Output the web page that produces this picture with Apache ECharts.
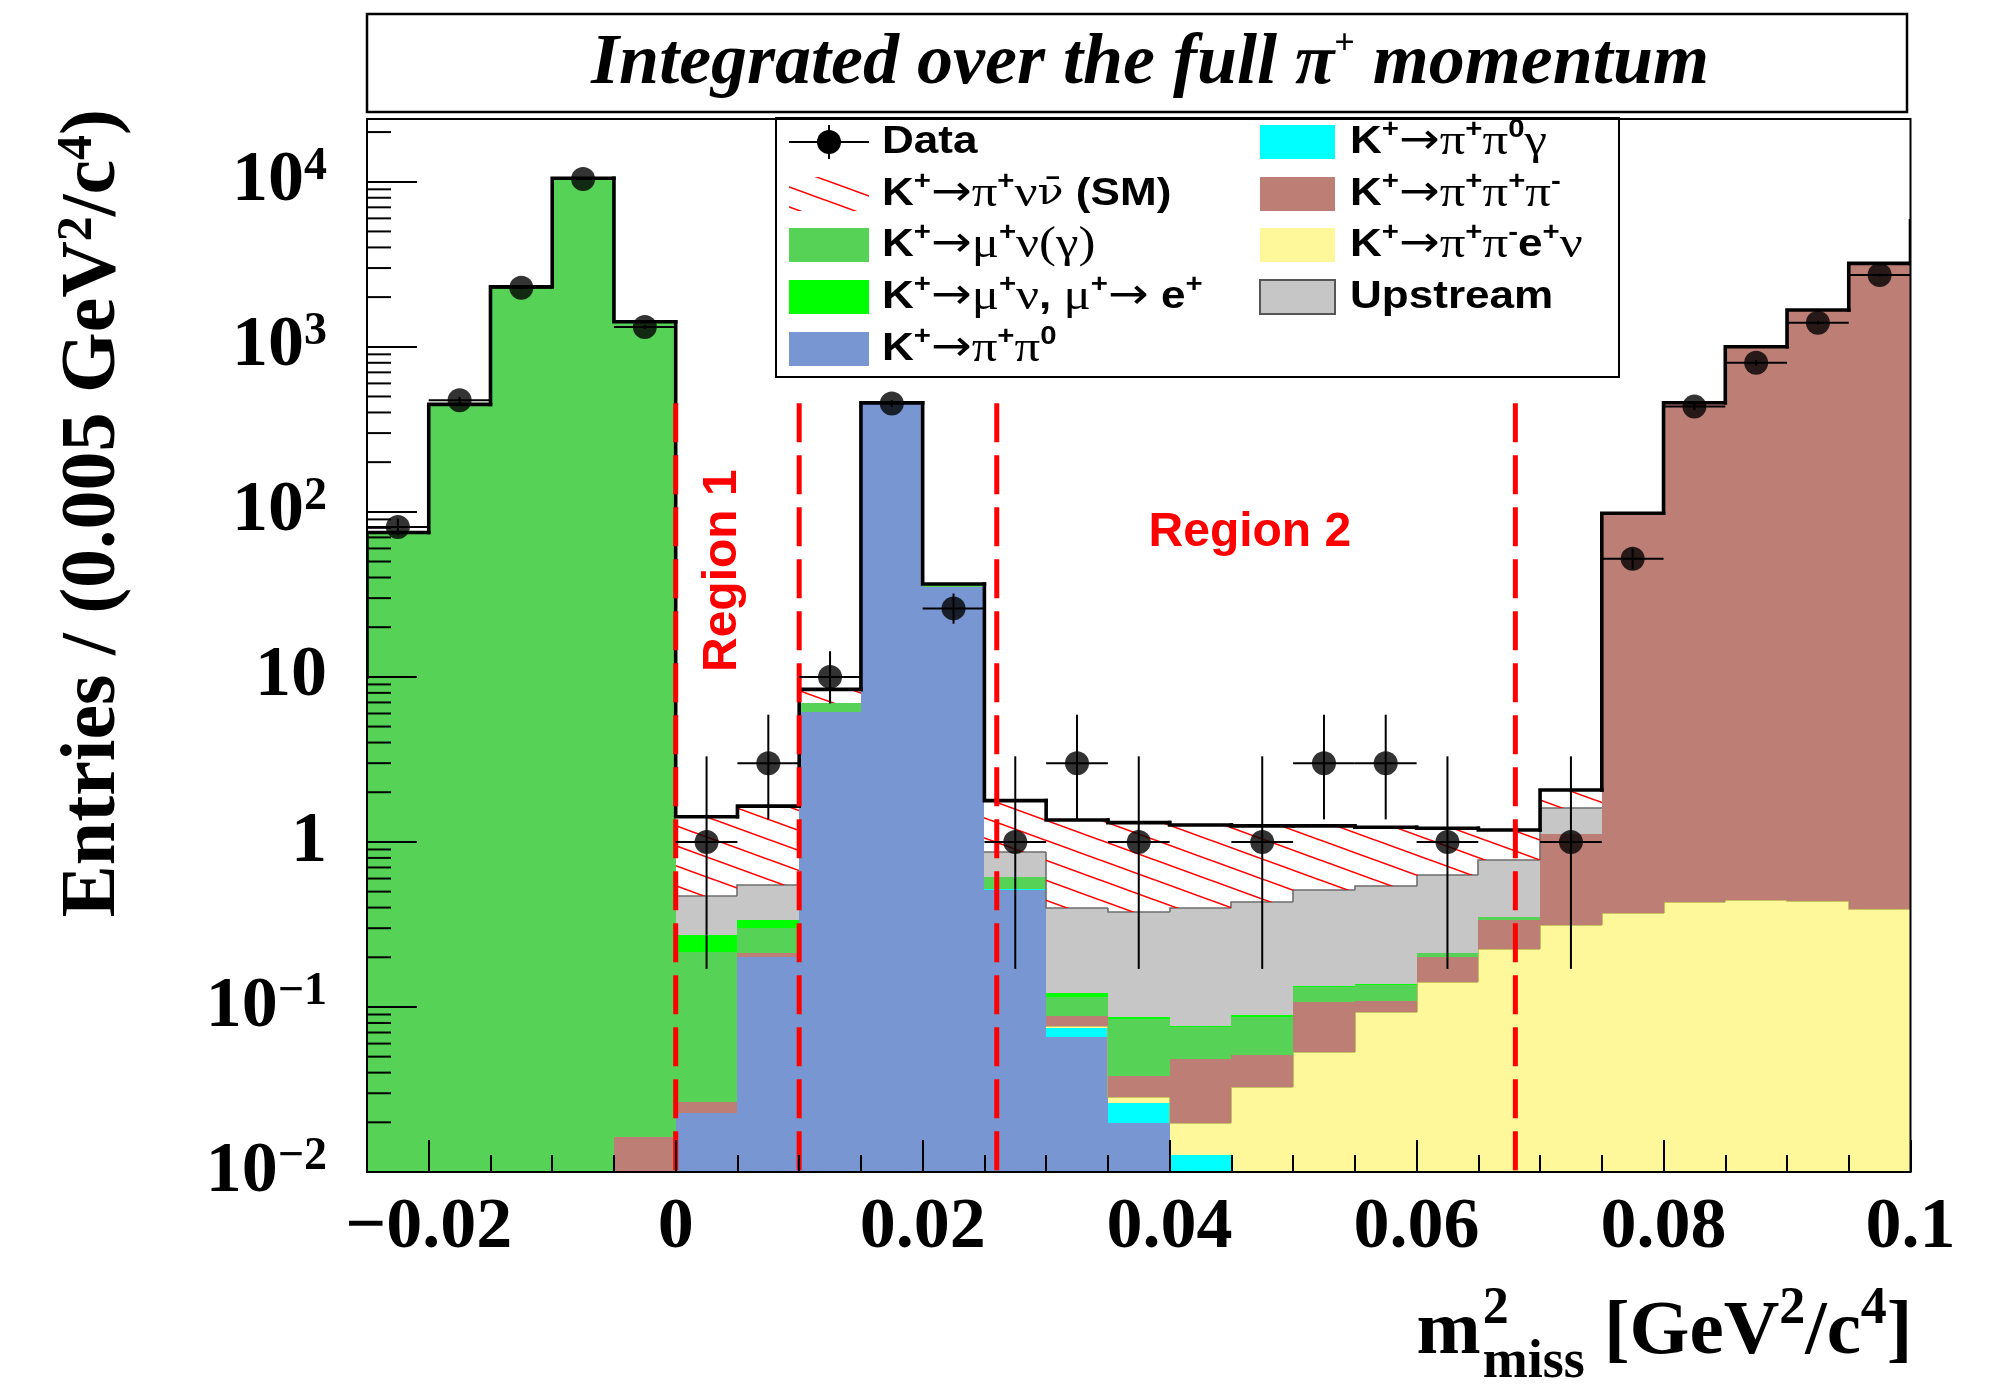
<!DOCTYPE html>
<html>
<head>
<meta charset="utf-8">
<title>m2miss distribution</title>
<script src="https://cdn.jsdelivr.net/npm/echarts@6/dist/echarts.min.js"></script>
<style>
  html, body { margin: 0; padding: 0; background: #fff; }
  #chart { width: 2012px; height: 1384px; }
</style>
</head>
<body>
<div id="chart"></div>
<script>
// ---------------------------------------------------------------------------
// Histogram bins of m2_miss [GeV^2/c^4], 0.005 wide (lower edges)
const binLow = [-0.025, -0.020, -0.015, -0.010, -0.005,
                 0.000,  0.005,  0.010,  0.015,  0.020,
                 0.025,  0.030,  0.035,  0.040,  0.045,
                 0.050,  0.055,  0.060,  0.065,  0.070,
                 0.075,  0.080,  0.085,  0.090,  0.095];
const binWidth = 0.005;

// Expected contributions per bin, listed in stacking order (bottom -> top)
const kPiPi0      = [0, 0, 0, 0, 0,   0.0227, 0.201, 6.15, 455, 35,   0.511, 0.0661, 0.0197, 0, 0,   0, 0, 0, 0, 0,   0, 0, 0, 0, 0];
const kPiPi0Gamma = [0, 0, 0, 0, 0,   0, 0, 0, 0, 0,   0.009, 0.0081, 0.0064, 0.0127, 0,   0, 0, 0, 0, 0,   0, 0, 0, 0, 0];
const kE4         = [0, 0, 0, 0, 0,   0, 0, 0, 0, 0,   0, 0.0025, 0.0025, 0.0072, 0.0329,   0.0536, 0.0935, 0.142, 0.226, 0.3135,   0.372, 0.435, 0.445, 0.44, 0.39];
const k3Pi        = [0, 0, 0, 0, 0.0163,   0.004, 0.010, 0, 0, 0,   0, 0.0114, 0.0096, 0.0283, 0.0183,   0.0541, 0.0152, 0.058, 0.111, 0.7985,   97.6, 457.6, 1000.5, 1669.5, 3202.6];
const kMu2        = [75, 448, 2310, 10490, 1419,   0.189, 0.088, 0.82, 1.5, 1.0,   0.095, 0.0272, 0.0463, 0.027, 0.0361,   0.025, 0.0272, 0.011, 0.012, 0,   0, 0, 0, 0, 0];
const kMu2Decay   = [0, 0, 0, 0, 0,   0.057, 0.038, 0, 0, 0,   0, 0.0057, 0.002, 0.0018, 0.0017,   0.0013, 0.0011, 0.002, 0.002, 0,   0, 0, 0, 0, 0];
const upstream    = [0, 0, 0, 0, 0,   0.197, 0.211, 0, 0, 0,   0.25, 0.276, 0.2915, 0.320, 0.342,   0.377, 0.406, 0.417, 0.425, 0.486,   0, 0, 0, 0, 0];
const smSignal    = [0, 0, 0, 0, 0,   0.95, 1.10, 1.43, 1.5, 0.5,   0.915, 0.96, 0.93, 0.869, 0.819,   0.739, 0.683, 0.58, 0.404, 0.465,   0, 0, 0, 0, 0];

// Total expectation in the underflow / overflow bins (outline only)
const totalUnderflow = 10;
const totalOverflow = 5800;

// Observed events per bin (null = empty bin) and their error-bar limits
const dataCounts  = [81, 475, 2280, 10400, 1320,   1, 3, 10, 454, 26,   1, 3, 1, null, 1,   3, 3, 1, null, 1,   52, 434, 800, 1400, 2720];
const dataErrLow  = [72, 453, 2232, 10300, 1284,   0.17, 1.37, 6.9, 433, 21,   0.17, 1.37, 0.17, null, 0.17,   1.37, 1.37, 0.17, null, 0.17,   45, 413, 772, 1363, 2668];
const dataErrHigh = [91, 497, 2328, 10500, 1356,   3.3, 5.9, 14.3, 475, 32,   3.3, 5.9, 3.3, null, 3.3,   5.9, 5.9, 3.3, null, 3.3,   60, 455, 828, 1437, 2772];

// Signal-region boundaries and their labels
const regionEdges = [0, 0.01, 0.026, 0.068];
const regionLineTop = 455;
const regionLabelText = ['Region 1', 'Region 2'];
const regionLabelPos = [[0.0038, 44], [0.0465, 74.5]];
const regionLabelRotated = [true, false];

// Axis ranges
const X_MIN = -0.025, X_MAX = 0.1;
const Y_MIN = 0.01, Y_MAX = 24000;
const X_MAJOR_FROM = -0.02, X_MAJOR_STEP = 0.02;

// ---------------------------------------------------------------------------
// Layout (pixels)
const PLOT = { left: 367, top: 119, width: 1543.5, height: 1053 };
const PLOT_RIGHT = PLOT.left + PLOT.width;
const Y_FLOOR = 0.004;

const SERIF = '"Liberation Serif", "Times New Roman", serif';
const SANS = '"Liberation Sans", Arial, Helvetica, sans-serif';
const DSANS = '"DejaVu Sans", sans-serif';
const DSERIF = '"DejaVu Serif", serif';

// Diagonal red hatching used for the SM signal
function makeHatch() {
  const c = document.createElement('canvas');
  c.width = 55; c.height = 20;
  const g = c.getContext('2d');
  g.strokeStyle = '#ff0000';
  g.lineWidth = 1.6;
  for (const dy of [-20, 0, 20]) {
    g.beginPath();
    g.moveTo(0, dy);
    g.lineTo(55, dy + 20);
    g.stroke();
  }
  return c;
}
const hatch = { image: makeHatch(), repeat: 'repeat' };

const layers = [
  { name: 'K+ -> pi+ pi0',           values: kPiPi0,      fill: '#7896d2' },
  { name: 'K+ -> pi+ pi0 gamma',     values: kPiPi0Gamma, fill: '#00ffff' },
  { name: 'K+ -> pi+ pi- e+ nu',     values: kE4,         fill: '#fff89a', edge: '#b8b050' },
  { name: 'K+ -> pi+ pi+ pi-',       values: k3Pi,        fill: '#bd7f75' },
  { name: 'K+ -> mu+ nu (gamma)',    values: kMu2,        fill: '#56d256' },
  { name: 'K+ -> mu+ nu, mu+ -> e+', values: kMu2Decay,   fill: '#00ff00' },
  { name: 'Upstream',                values: upstream,    fill: '#c6c6c6', edge: '#6e6e6e' },
  { name: 'K+ -> pi+ nu nubar (SM)', values: smSignal,    fill: hatch }
];

// Stack the contributions bin by bin
const cumulative = binLow.map(() => 0);
const layerData = layers.map((layer) => {
  const items = binLow.map((lo, i) => {
    const base = cumulative[i];
    const top = base + layer.values[i];
    cumulative[i] = top;
    return [lo, lo + binWidth, base, top];
  });
  // previous-bin top, for the vertical steps of outlined layers
  return items.map((it, i) => {
    const prevOn = i > 0 && layer.values[i - 1] > 0 && layer.values[i] > 0 ? 1 : 0;
    const prevTop = i > 0 ? items[i - 1][3] : it[3];
    return it.concat([prevTop, prevOn]);
  });
});
const totals = cumulative.slice();

// Outline of the total expectation, including under/overflow
const outlineLow = [X_MIN - binWidth].concat(binLow, [X_MAX]);
const outlineVal = [totalUnderflow].concat(totals, [totalOverflow]);
const outlineData = outlineLow.map((lo, i) => [lo, lo + binWidth, outlineVal[i], i > 0 ? outlineVal[i - 1] : outlineVal[i]]);

// Data points
const pointData = [];
binLow.forEach((lo, i) => {
  if (dataCounts[i] != null) {
    pointData.push([lo + binWidth / 2, dataCounts[i], dataErrLow[i], dataErrHigh[i]]);
  }
});

// Minor ticks of the logarithmic axis (2..9 x 10^k)
const yMinorTicks = [];
for (let k = -2; k <= 4; k++) {
  for (let m = 2; m <= 9; m++) {
    const v = m * Math.pow(10, k);
    if (v < Y_MAX) yMinorTicks.push([X_MIN, v]);
  }
}

// ---------------------------------------------------------------------------
function layerSeries(layer, idx) {
  return {
    type: 'custom',
    name: layer.name,
    xAxisIndex: 0, yAxisIndex: 0,
    clip: true,
    z: 2,
    silent: true,
    data: layerData[idx],
    encode: { x: [0, 1], y: [2, 3] },
    renderItem(params, api) {
      const lo = api.value(0), hi = api.value(1);
      const base = api.value(2), top = api.value(3);
      const prevTop = api.value(4), prevOn = api.value(5);
      if (!(top > base)) return null;
      const a = api.coord([lo, top]);
      const b = api.coord([hi, Math.max(base, Y_FLOOR)]);
      const x0 = Math.round(a[0]), x1 = Math.round(b[0]);
      const y0 = Math.round(a[1]), y1 = Math.round(b[1]);
      const children = [{
        type: 'rect',
        shape: { x: x0, y: y0, width: x1 - x0, height: y1 - y0 },
        style: { fill: layer.fill }
      }];
      if (layer.edge) {
        const pts = [[x0, y0], [x1, y0]];
        if (prevOn) pts.unshift([x0, Math.round(api.coord([lo, prevTop])[1])]);
        children.push({
          type: 'polyline',
          shape: { points: pts },
          style: { stroke: layer.edge, lineWidth: 1.6, fill: null }
        });
      }
      return { type: 'group', children };
    }
  };
}

const series = layers.map(layerSeries);

series.push({
  type: 'custom',
  name: 'Total',
  clip: true,
  z: 3,
  silent: true,
  data: outlineData,
  encode: { x: [0, 1], y: [2, 3] },
  renderItem(params, api) {
    const lo = api.value(0), hi = api.value(1), v = api.value(2), prev = api.value(3);
    const a = api.coord([lo, prev]);
    const b = api.coord([lo, v]);
    const c = api.coord([hi, v]);
    return {
      type: 'polyline',
      shape: { points: [a, b, c] },
      style: { stroke: '#000', lineWidth: 3.6, fill: null, lineJoin: 'miter', lineCap: 'square' }
    };
  }
});

series.push({
  type: 'custom',
  name: 'Regions',
  clip: true,
  z: 4,
  silent: true,
  data: regionEdges.map((x) => [x, Y_MIN, regionLineTop]),
  encode: { x: 0, y: [1, 2] },
  renderItem(params, api) {
    const top = api.coord([api.value(0), api.value(2)]);
    const bottom = api.coord([api.value(0), api.value(1)]);
    return {
      type: 'line',
      shape: { x1: top[0], y1: top[1], x2: bottom[0], y2: bottom[1] },
      style: { stroke: '#ff0000', lineWidth: 5, lineDash: [39, 13] }
    };
  }
});

series.push({
  type: 'custom',
  name: 'Region labels',
  z: 4,
  silent: true,
  data: regionLabelPos,
  encode: { x: 0, y: 1 },
  renderItem(params, api) {
    const p = api.coord([api.value(0), api.value(1)]);
    return {
      type: 'text',
      x: p[0], y: p[1],
      rotation: regionLabelRotated[params.dataIndex] ? Math.PI / 2 : 0,
      style: {
        text: regionLabelText[params.dataIndex],
        fill: '#ff0000',
        fontFamily: SANS, fontWeight: 'bold', fontSize: 48,
        align: 'center', verticalAlign: 'middle'
      }
    };
  }
});

series.push({
  type: 'custom',
  name: 'Minor ticks',
  z: 5,
  silent: true,
  data: yMinorTicks,
  encode: { x: 0, y: 1 },
  renderItem(params, api) {
    const p = api.coord([api.value(0), api.value(1)]);
    return {
      type: 'line',
      shape: { x1: p[0], y1: p[1], x2: p[0] + 24, y2: p[1] },
      style: { stroke: '#000', lineWidth: 2 }
    };
  }
});

series.push({
  type: 'custom',
  name: 'Data errors',
  clip: true,
  z: 6,
  silent: true,
  data: pointData,
  encode: { x: 0, y: [1, 2, 3] },
  renderItem(params, api) {
    const x = api.value(0), v = api.value(1), lo = api.value(2), hi = api.value(3);
    const pLo = api.coord([x, lo]), pHi = api.coord([x, hi]);
    const pL = api.coord([x - binWidth / 2, v]), pR = api.coord([x + binWidth / 2, v]);
    return {
      type: 'group',
      children: [
        { type: 'line', shape: { x1: pLo[0], y1: pLo[1], x2: pHi[0], y2: pHi[1] }, style: { stroke: '#000', lineWidth: 2 } },
        { type: 'line', shape: { x1: pL[0], y1: pL[1], x2: pR[0], y2: pR[1] }, style: { stroke: '#000', lineWidth: 2 } }
      ]
    };
  }
});

series.push({
  type: 'scatter',
  name: 'Data',
  z: 7,
  silent: true,
  symbol: 'circle',
  symbolSize: 24,
  itemStyle: { color: '#000' },
  data: pointData.map((d) => [d[0], d[1]])
});

// ---------------------------------------------------------------------------
// Text helpers
const measureCtx = document.createElement('canvas').getContext('2d');
function textWidth(str, size, family, weight) {
  measureCtx.font = (weight || 'normal') + ' ' + size + 'px ' + family;
  return measureCtx.measureText(str).width;
}

// x-axis title: m^2_miss [GeV^2/c^4], right aligned to the frame
function xTitleElements() {
  const fsMain = 77, fsSmall = 52, fsSub = 54;
  const baseline = 1359;
  const mid = (b, fs) => b - 0.34 * fs;
  const wm = textWidth('m', fsMain, SERIF, 'bold');
  const wsub = textWidth('miss', fsSub, SERIF, 'bold');
  const wGeV = textWidth(' [GeV', fsMain, SERIF, 'bold');
  const w2 = textWidth('2', fsSmall, SERIF, 'bold');
  const wc = textWidth('/c', fsMain, SERIF, 'bold');
  const w4 = textWidth('4', fsSmall, SERIF, 'bold');
  const wb = textWidth(']', fsMain, SERIF, 'bold');
  const total = wm + 2 + wsub + wGeV + w2 + wc + w4 + wb;
  let x = PLOT_RIGHT + 2 - total;
  const els = [];
  const put = (txt, x0, fs, b) => els.push({
    type: 'text', x: x0, y: mid(b, fs), z: 30,
    style: { text: txt, fill: '#000', fontFamily: SERIF, fontWeight: 'bold', fontSize: fs, align: 'left', verticalAlign: 'middle' }
  });
  put('m', x, fsMain, baseline); x += wm + 2;
  put('2', x, fsSmall, baseline - 32);
  put('miss', x, fsSub, baseline + 22); x += wsub;
  put(' [GeV', x, fsMain, baseline); x += wGeV;
  put('2', x, fsSmall, baseline - 32); x += w2;
  put('/c', x, fsMain, baseline); x += wc;
  put('4', x, fsSmall, baseline - 32); x += w4;
  put(']', x, fsMain, baseline);
  return els;
}

// Legend
const legendRich = {
  k: { fontFamily: SANS, fontWeight: 'bold', fontSize: 39, lineHeight: 50, fill: '#000', verticalAlign: 'middle' },
  g: { fontFamily: SERIF, fontSize: 45, lineHeight: 50, fill: '#000', verticalAlign: 'middle' },
  n: { fontFamily: DSERIF, fontSize: 38, lineHeight: 50, fill: '#000', verticalAlign: 'middle' },
  a: { fontFamily: DSANS, fontSize: 43, lineHeight: 50, fill: '#000', verticalAlign: 'middle' },
  s: { fontFamily: SANS, fontWeight: 'bold', fontSize: 26, lineHeight: 30, fill: '#000', verticalAlign: 'top' }
};
const legendTextScale = 1.13;
const legendRows = [142, 194, 245, 297, 349];
const legendCol = [{ box: 789, boxW: 80, text: 882 }, { box: 1260, boxW: 75, text: 1350 }];
const legendEntries = [
  { col: 0, row: 0, kind: 'data', label: '{k|Data}' },
  { col: 0, row: 1, fill: hatch, label: '{k|K}{s|+}{a|→}{g|π}{s|+}{g|ν}{n|ν\u0304}{k| (SM)}' },
  { col: 0, row: 2, fill: '#56d256', label: '{k|K}{s|+}{a|→}{g|μ}{s|+}{g|ν(γ)}' },
  { col: 0, row: 3, fill: '#00ff00', label: '{k|K}{s|+}{a|→}{g|μ}{s|+}{g|ν}{k|, }{g|μ}{s|+}{a|→}{k| e}{s|+}' },
  { col: 0, row: 4, fill: '#7896d2', label: '{k|K}{s|+}{a|→}{g|π}{s|+}{g|π}{s|0}' },
  { col: 1, row: 0, fill: '#00ffff', label: '{k|K}{s|+}{a|→}{g|π}{s|+}{g|π}{s|0}{g|γ}' },
  { col: 1, row: 1, fill: '#bd7f75', label: '{k|K}{s|+}{a|→}{g|π}{s|+}{g|π}{s|+}{g|π}{s|-}' },
  { col: 1, row: 2, fill: '#fff89a', label: '{k|K}{s|+}{a|→}{g|π}{s|+}{g|π}{s|-}{k|e}{s|+}{g|ν}' },
  { col: 1, row: 3, fill: '#c6c6c6', border: '#555', label: '{k|Upstream}' }
];

function legendElements() {
  const els = [{
    type: 'rect', z: 20,
    shape: { x: 776, y: 118, width: 843, height: 259 },
    style: { fill: '#fff', stroke: '#000', lineWidth: 2 }
  }];
  legendEntries.forEach((e) => {
    const col = legendCol[e.col];
    const y = legendRows[e.row];
    if (e.kind === 'data') {
      const cx = col.box + col.boxW / 2;
      els.push({ type: 'line', z: 21, shape: { x1: col.box, y1: y, x2: col.box + col.boxW, y2: y }, style: { stroke: '#000', lineWidth: 2 } });
      els.push({ type: 'line', z: 21, shape: { x1: cx, y1: y - 17, x2: cx, y2: y + 17 }, style: { stroke: '#000', lineWidth: 2 } });
      els.push({ type: 'circle', z: 22, shape: { cx, cy: y, r: 12 }, style: { fill: '#000' } });
    } else {
      els.push({
        type: 'rect', z: 21,
        shape: { x: col.box, y: y - 17, width: col.boxW, height: 34 },
        style: { fill: e.fill, stroke: e.border || null, lineWidth: e.border ? 2 : 0 }
      });
    }
    els.push({
      type: 'text', z: 22, x: col.text, y: y, scaleX: legendTextScale,
      style: { text: e.label, rich: legendRich, align: 'left', verticalAlign: 'middle' }
    });
  });
  return els;
}

const graphics = [
  // frame
  { type: 'rect', z: 25, shape: { x: PLOT.left, y: PLOT.top, width: PLOT.width, height: PLOT.height }, style: { fill: null, stroke: '#000', lineWidth: 2 } },
  // title box
  { type: 'rect', z: 25, shape: { x: 367, y: 14, width: 1540, height: 98 }, style: { fill: '#fff', stroke: '#000', lineWidth: 2.5 } },
  {
    type: 'text', z: 26, x: 1150, y: 64,
    style: {
      text: '{t|Integrated over the full π}{p|+}{t| momentum}',
      align: 'center', verticalAlign: 'middle',
      rich: {
        t: { fontFamily: SERIF, fontWeight: 'bold', fontStyle: 'italic', fontSize: 72, lineHeight: 74, fill: '#000', verticalAlign: 'middle' },
        p: { fontFamily: SERIF, fontWeight: 'bold', fontSize: 36, lineHeight: 40, fill: '#000', verticalAlign: 'top' }
      }
    }
  },
  // y-axis title
  {
    type: 'text', z: 26, x: 94, y: 109, rotation: Math.PI / 2,
    style: {
      text: '{b|Entries / (0.005 GeV}{s|2}{b|/c}{s|4}{b|)}',
      align: 'right', verticalAlign: 'middle',
      rich: {
        b: { fontFamily: SERIF, fontWeight: 'bold', fontSize: 78, lineHeight: 82, fill: '#000', verticalAlign: 'middle' },
        s: { fontFamily: SERIF, fontWeight: 'bold', fontSize: 50, lineHeight: 54, fill: '#000', verticalAlign: 'top' }
      }
    }
  }
].concat(xTitleElements(), legendElements());

// ---------------------------------------------------------------------------
const chart = echarts.init(document.getElementById('chart'), null, { renderer: 'canvas' });

const labelFont = { fontFamily: SERIF, fontWeight: 'bold', color: '#000' };

chart.setOption({
  animation: false,
  backgroundColor: '#fff',
  grid: [
    { left: PLOT.left, top: PLOT.top, width: PLOT.width, height: PLOT.height, containLabel: false },
    {
      left: PLOT.left + (X_MAJOR_FROM - X_MIN) / (X_MAX - X_MIN) * PLOT.width,
      top: PLOT.top,
      width: PLOT_RIGHT - (PLOT.left + (X_MAJOR_FROM - X_MIN) / (X_MAX - X_MIN) * PLOT.width),
      height: PLOT.height, containLabel: false
    }
  ],
  xAxis: [
    {
      type: 'value', gridIndex: 0, min: X_MIN, max: X_MAX, interval: binWidth, z: 10,
      axisLine: { show: false, onZero: false },
      axisTick: { show: true, inside: true, length: 17, lineStyle: { color: '#000', width: 2 } },
      axisLabel: { show: false },
      splitLine: { show: false }
    },
    {
      type: 'value', gridIndex: 1, min: X_MAJOR_FROM, max: X_MAX, interval: X_MAJOR_STEP, z: 10,
      axisLine: { show: false, onZero: false },
      axisTick: { show: true, inside: true, length: 32, lineStyle: { color: '#000', width: 2 } },
      axisLabel: Object.assign({
        fontSize: 72, margin: 20,
        formatter(v) {
          const r = Math.round(v * 1000) / 1000;
          if (r === 0) return '0';
          if (r < 0) return '\u2212' + String(-r);
          return String(r);
        }
      }, labelFont),
      splitLine: { show: false }
    }
  ],
  yAxis: [
    {
      type: 'log', gridIndex: 0, logBase: 10, min: Y_MIN, max: Y_MAX, z: 10,
      axisLine: { show: false, onZero: false },
      axisTick: { show: true, inside: true, length: 50, lineStyle: { color: '#000', width: 2 } },
      minorTick: { show: false },
      splitLine: { show: false },
      axisLabel: {
        margin: 40,
        formatter(v) {
          const k = Math.log10(v);
          const n = Math.round(k);
          if (Math.abs(k - n) > 1e-6) return '';
          if (n === 0) return '{b|1}';
          if (n === 1) return '{b|10}';
          return '{b|10}{e|' + (n < 0 ? '\u2212' + (-n) : n) + '}';
        },
        rich: {
          b: { fontFamily: SERIF, fontWeight: 'bold', fontSize: 72, lineHeight: 76, color: '#000', verticalAlign: 'middle' },
          e: { fontFamily: SERIF, fontWeight: 'bold', fontSize: 46, lineHeight: 50, color: '#000', verticalAlign: 'top' }
        }
      }
    },
    {
      type: 'value', gridIndex: 1, min: 0, max: 1, show: false
    }
  ],
  graphic: { elements: graphics },
  series
});
</script>
</body>
</html>
